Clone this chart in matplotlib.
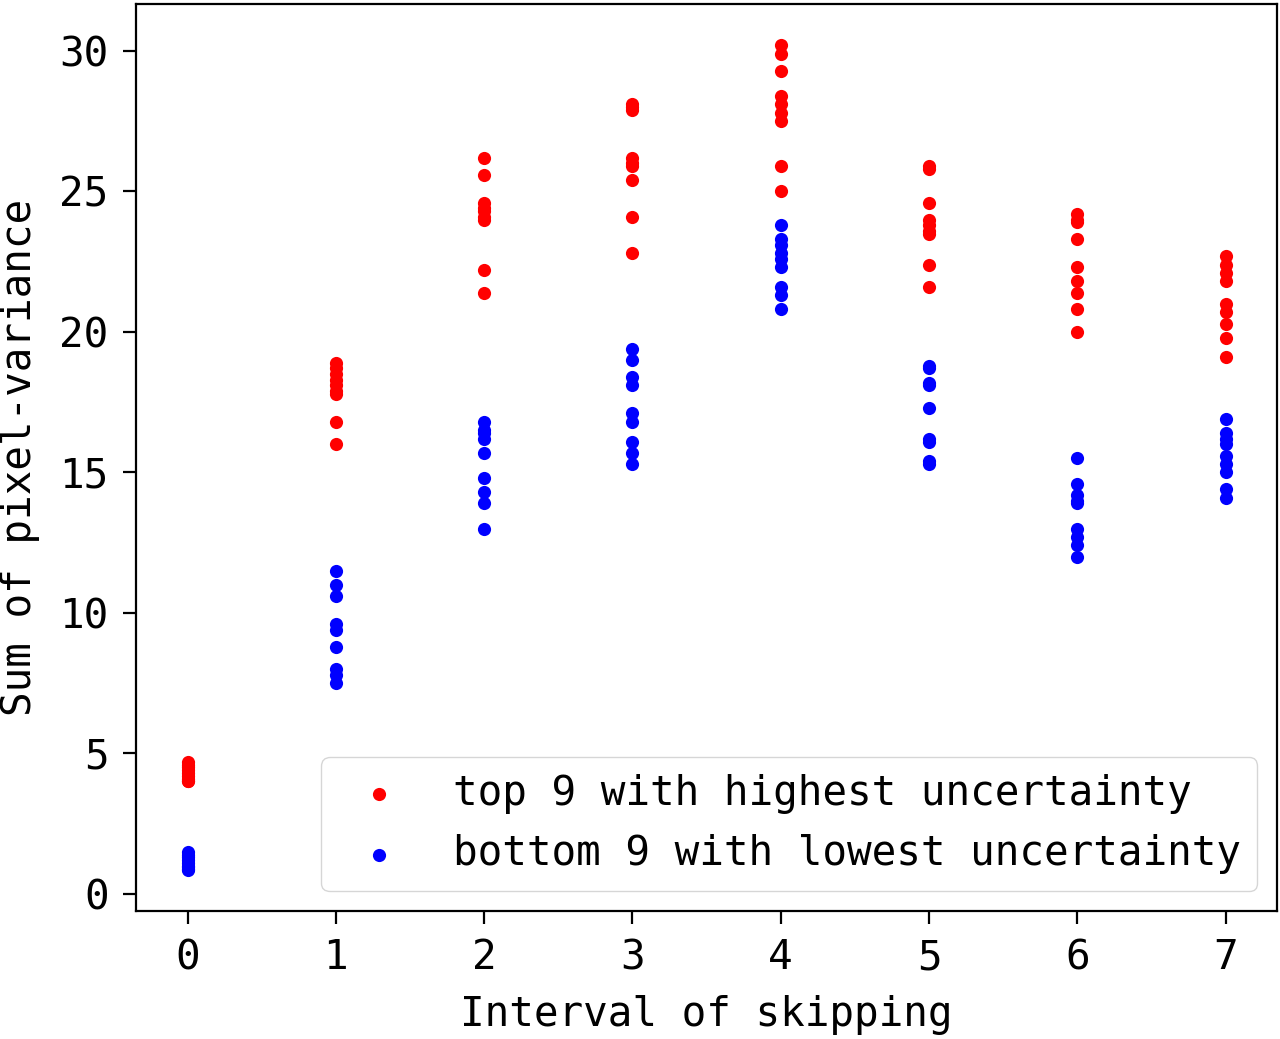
import matplotlib
matplotlib.use("Agg")
import matplotlib.pyplot as plt
import numpy as np

intervals = [0, 1, 2, 3, 4, 5, 6, 7]
top9 = [
    [4.7, 4.6, 4.5, 4.4, 4.3, 4.2, 4.1, 4.0, 4.0],
    [18.9, 18.7, 18.5, 18.3, 18.1, 17.9, 17.8, 16.8, 16.0],
    [26.2, 25.6, 24.6, 24.4, 24.3, 24.1, 24.0, 22.2, 21.4],
    [28.1, 28.0, 27.9, 26.2, 26.0, 25.9, 25.4, 24.1, 22.8],
    [30.2, 29.9, 29.3, 28.4, 28.1, 27.8, 27.5, 25.9, 25.0],
    [25.9, 25.8, 24.6, 24.0, 23.8, 23.6, 23.5, 22.4, 21.6],
    [24.2, 24.0, 23.9, 23.3, 22.3, 21.8, 21.4, 20.8, 20.0],
    [22.7, 22.4, 22.1, 21.8, 21.0, 20.7, 20.3, 19.8, 19.1],
]
bottom9 = [
    [1.5, 1.4, 1.3, 1.2, 1.1, 1.0, 0.95, 0.9, 0.85],
    [11.5, 11.0, 10.6, 9.6, 9.4, 8.8, 8.0, 7.8, 7.5],
    [16.8, 16.5, 16.4, 16.2, 15.7, 14.8, 14.3, 13.9, 13.0],
    [19.4, 19.0, 18.4, 18.1, 17.1, 16.8, 16.1, 15.7, 15.3],
    [23.8, 23.3, 23.1, 22.8, 22.6, 22.3, 21.6, 21.3, 20.8],
    [18.8, 18.7, 18.2, 18.1, 17.3, 16.2, 16.1, 15.4, 15.3],
    [15.5, 14.6, 14.2, 14.0, 13.9, 13.0, 12.7, 12.4, 12.0],
    [16.9, 16.4, 16.2, 16.0, 15.6, 15.3, 15.0, 14.4, 14.1],
]
labels = ["top 9 with highest uncertainty", "bottom 9 with lowest uncertainty"]

plt.rcParams['font.family'] = ['DejaVu Sans Mono']
fig = plt.figure(figsize=(12.8, 10.39), dpi=100)
ax = fig.add_axes([0.106, 0.123, 0.892, 0.873])

xt = np.repeat(intervals, [len(v) for v in top9])
ax.scatter(xt, np.concatenate(top9), s=90, c='red', linewidths=0, label=labels[0])
xb = np.repeat(intervals, [len(v) for v in bottom9])
ax.scatter(xb, np.concatenate(bottom9), s=90, c='blue', linewidths=0, label=labels[1])

ax.set_xticks(intervals)
ax.set_yticks([0, 5, 10, 15, 20, 25, 30])
ax.tick_params(labelsize=29.5, length=9.5, width=1.6, pad=10)
for s in ax.spines.values():
    s.set_linewidth(1.6)
ax.set_xlabel("Interval of skipping", fontsize=29.5, labelpad=12)
ax.set_ylabel("Sum of pixel-variance", fontsize=29.5, labelpad=14)
ax.legend(loc='lower right', fontsize=29.5, markerscale=1.0)

fig.savefig("out.png", dpi=100)
